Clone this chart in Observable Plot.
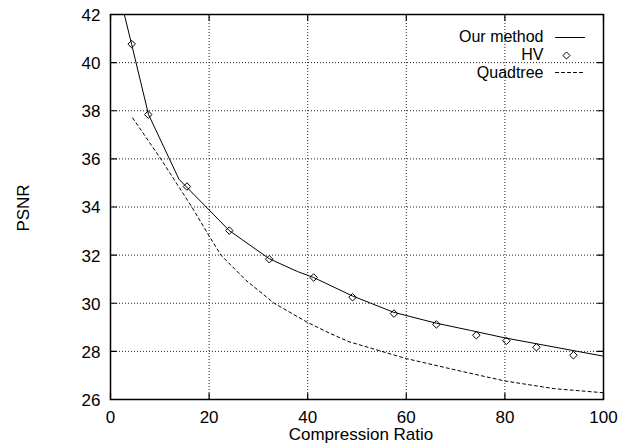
<!DOCTYPE html>
<html>
<head>
<meta charset="utf-8">
<script src="https://cdn.jsdelivr.net/npm/d3@7"></script>
<script src="https://cdn.jsdelivr.net/npm/@observablehq/plot@0.6"></script>
<style>
  html, body { margin: 0; padding: 0; background: #fff; }
  #chart svg { display: block; }
</style>
</head>
<body>
<div id="chart"></div>
<script>
// ---- data ----
const xTicks = [0, 20, 40, 60, 80, 100];
const yTicks = [26, 28, 30, 32, 34, 36, 38, 40, 42];
const xGrid = [20, 40, 60, 80];
const yGrid = [28, 30, 32, 34, 36, 38, 40];

const seriesNames = ["Our method", "HV", "Quadtree"];

const ourX = [2.8, 4.3, 7.7, 13.9, 24.1, 32.2, 37.9, 41.2, 49.1, 57.5, 66.1, 73.05, 80, 100];
const ourY = [42.0, 40.75, 37.85, 35.15, 33.02, 31.85, 31.32, 31.07, 30.3, 29.62, 29.17, 28.87, 28.56, 27.8];

const hvX = [4.3, 7.66, 15.5, 24.1, 32.2, 41.2, 49.1, 57.5, 66.1, 74.2, 80.3, 86.4, 93.9];
const hvY = [40.77, 37.84, 34.85, 33.02, 31.83, 31.07, 30.25, 29.57, 29.12, 28.67, 28.44, 28.17, 27.84];

const qtX = [4.5, 10.2, 16.5, 20, 22.4, 27.5, 33.2, 40, 44.7, 48.4, 60, 71, 80, 90, 100];
const qtY = [37.7, 36.0, 34.0, 32.8, 32.0, 30.95, 30.0, 29.2, 28.73, 28.4, 27.7, 27.18, 26.77, 26.45, 26.28];

// tables built from the arrays
const ourData = ourX.map((x, i) => ({x, y: ourY[i]}));
const hvData = hvX.map((x, i) => ({x, y: hvY[i]}));
const qtData = qtX.map((x, i) => ({x, y: qtY[i]}));

const lineShape = {draw(context, l) { context.moveTo(0, 0); context.lineTo(0, -l); }};
const tickLen = 6;
const gridStyle = {stroke: "#222", strokeOpacity: 1, strokeWidth: 1, strokeDasharray: "1,2"};
const legendFont = 16;

const chart = Plot.plot({
  width: 627,
  height: 444,
  marginLeft: 110,
  marginRight: 24,
  marginTop: 14,
  marginBottom: 45,
  style: {fontFamily: "'Liberation Sans', Arial, Helvetica, sans-serif", fontSize: "17px", color: "#000", background: "#fff"},
  x: {domain: [0, 100]},
  y: {domain: [26, 42]},
  marks: [
    Plot.gridX(xGrid, gridStyle),
    Plot.gridY(yGrid, gridStyle),
    Plot.axisX(xTicks, {tickSize: 0, tickPadding: 11, tickFormat: d => String(d), label: null}),
    Plot.axisY(yTicks, {tickSize: 0, tickPadding: 10, tickFormat: d => String(d), label: null, dy: 1}),
    // inward mirror ticks on all four sides
    Plot.vector(xTicks, {x: d => d, frameAnchor: "bottom", rotate: 0, length: tickLen, anchor: "start", shape: lineShape, strokeWidth: 1.2}),
    Plot.vector(xTicks, {x: d => d, frameAnchor: "top", rotate: 180, length: tickLen, anchor: "start", shape: lineShape, strokeWidth: 1.2}),
    Plot.vector(yTicks, {y: d => d, frameAnchor: "left", rotate: 90, length: tickLen, anchor: "start", shape: lineShape, strokeWidth: 1.2}),
    Plot.vector(yTicks, {y: d => d, frameAnchor: "right", rotate: -90, length: tickLen, anchor: "start", shape: lineShape, strokeWidth: 1.2}),
    // series
    Plot.line(qtData, {x: "x", y: "y", stroke: "#000", strokeWidth: 1, strokeDasharray: "3,3", clip: true}),
    Plot.line(ourData, {x: "x", y: "y", stroke: "#000", strokeWidth: 1, clip: true}),
    Plot.dot(hvData, {x: "x", y: "y", symbol: "diamond2", r: 3.4, stroke: "#000", strokeWidth: 1, fill: "none"}),
    Plot.frame({stroke: "#000", strokeWidth: 1.5}),
    // legend
    Plot.text([seriesNames[0]], {text: d => d, frameAnchor: "top-right", dx: -60, dy: 22, textAnchor: "end", lineAnchor: "middle", fontSize: legendFont}),
    Plot.text([seriesNames[1]], {text: d => d, frameAnchor: "top-right", dx: -60, dy: 40, textAnchor: "end", lineAnchor: "middle", fontSize: legendFont}),
    Plot.text([seriesNames[2]], {text: d => d, frameAnchor: "top-right", dx: -60, dy: 58, textAnchor: "end", lineAnchor: "middle", fontSize: legendFont}),
    Plot.vector([seriesNames[0]], {frameAnchor: "top-right", dx: -48, dy: 23, rotate: 90, length: 29, anchor: "start", shape: lineShape, stroke: "#000", strokeWidth: 1}),
    Plot.dot([seriesNames[1]], {frameAnchor: "top-right", dx: -37, dy: 41, symbol: "diamond2", r: 3.2, stroke: "#000", strokeWidth: 1, fill: "none"}),
    Plot.vector([seriesNames[2]], {frameAnchor: "top-right", dx: -48, dy: 58, rotate: 90, length: 29, anchor: "start", shape: lineShape, stroke: "#000", strokeWidth: 1, strokeDasharray: "3,3"}),
    // axis titles
    Plot.text(["Compression Ratio"], {text: d => d, frameAnchor: "bottom", dx: 4, dy: 35, lineAnchor: "middle", textAnchor: "middle"}),
    Plot.text(["PSNR"], {text: d => d, frameAnchor: "left", dx: -87, dy: 1, rotate: -90, lineAnchor: "middle", textAnchor: "middle"})
  ]
});
document.getElementById("chart").appendChild(chart);
</script>
</body>
</html>
